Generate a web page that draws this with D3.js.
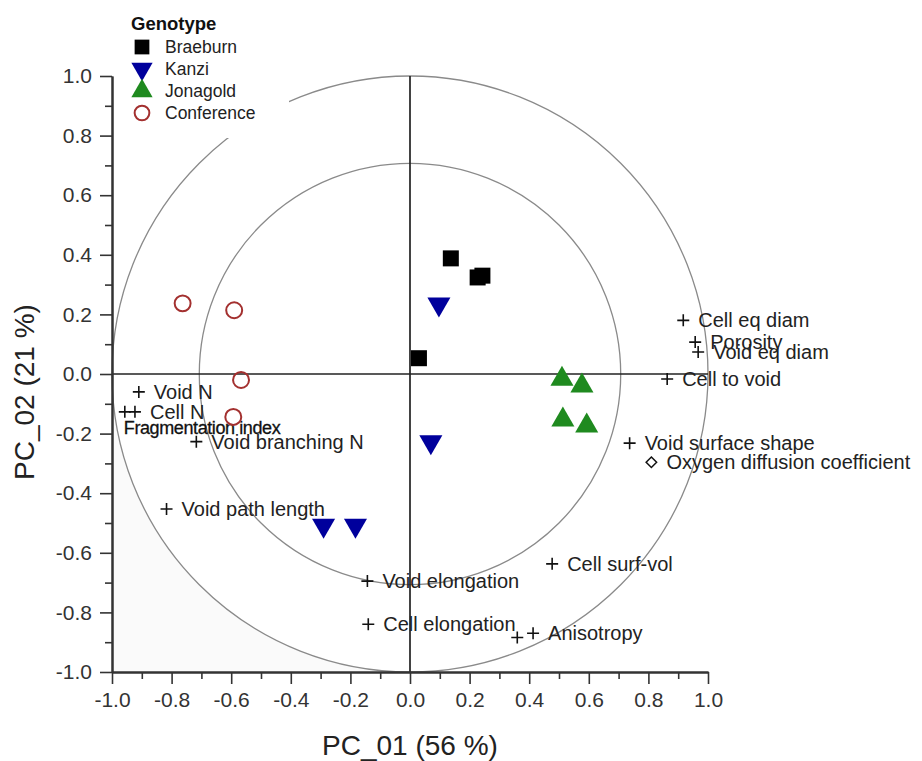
<!DOCTYPE html>
<html>
<head>
<meta charset="utf-8">
<script src="https://cdn.jsdelivr.net/npm/d3@7"></script>
<style>
  body { margin: 0; background: #fff; }
  text { font-family: "Liberation Sans", Arial, sans-serif; }
</style>
</head>
<body>
<svg width="922" height="761"></svg>
<script>
// genotype scores
var genotypes = ["Braeburn", "Kanzi", "Jonagold", "Conference"];
var braeburnPts = [[0.137, 0.388], [0.227, 0.324], [0.243, 0.330], [0.030, 0.053]];
var kanziPts = [[0.097, 0.234], [0.070, -0.228], [-0.290, -0.508], [-0.183, -0.508]];
var jonagoldPts = [[0.510, -0.017], [0.577, -0.040], [0.513, -0.154], [0.593, -0.174]];
var conferencePts = [[-0.763, 0.237], [-0.590, 0.214], [-0.567, -0.020], [-0.593, -0.144]];

// variable loadings
var varNames = ["Cell eq diam", "Porosity", "Void eq diam", "Cell to void", "Void surface shape",
  "Oxygen diffusion coefficient", "Cell surf-vol", "Anisotropy", "", "Cell elongation",
  "Void elongation", "Void path length", "Void branching N", "Void N", "Cell N", "Fragmentation index"];
var varX = [0.917, 0.957, 0.967, 0.863, 0.737, 0.810, 0.477, 0.413, 0.360, -0.140,
  -0.143, -0.817, -0.717, -0.910, -0.923, -0.957];
var varY = [0.180, 0.107, 0.074, -0.017, -0.232, -0.296, -0.637, -0.870, -0.884, -0.840,
  -0.695, -0.453, -0.227, -0.060, -0.127, -0.127];

var tickValues = [-1.0, -0.8, -0.6, -0.4, -0.2, 0.0, 0.2, 0.4, 0.6, 0.8, 1.0];
var minorTicks = [-0.9, -0.7, -0.5, -0.3, -0.1, 0.1, 0.3, 0.5, 0.7, 0.9];
var xTitle = "PC_01 (56 %)", yTitle = "PC_02 (21 %)";

var svg = d3.select("svg");
var margin = {"top": 76, "left": 112};
var width = 596, height = 596;

var x = d3.scaleLinear().domain([-1, 1]).range([margin.left, margin.left + width]),
    y = d3.scaleLinear().domain([-1, 1]).range([margin.top + height, margin.top]);

var R = x(1) - x(0);

// faint shading outside the circle, lower left
svg.append("path")
    .attr("d", "M" + x(-1) + "," + y(0) + "L" + x(-1) + "," + y(-1) + "L" + x(0) + "," + y(-1) +
      "A" + R + "," + R + " 0 0 1 " + x(-1) + "," + y(0) + "Z")
    .attr("fill", "#fafafa");

// correlation circles
[1, Math.sqrt(0.5)].forEach(function(r) {
  svg.append("circle")
      .attr("cx", x(0)).attr("cy", y(0))
      .attr("r", r * R)
      .attr("fill", "none")
      .attr("stroke", "#8a8a8a")
      .attr("stroke-width", 1.3);
});

// zero lines
svg.append("line").attr("x1", x(-1)).attr("x2", x(1)).attr("y1", y(0)).attr("y2", y(0))
    .attr("stroke", "#222").attr("stroke-width", 1.7);
svg.append("line").attr("x1", x(0)).attr("x2", x(0)).attr("y1", y(-1)).attr("y2", y(1))
    .attr("stroke", "#222").attr("stroke-width", 1.7);

var fmt = function(d) { return (Math.abs(d) < 1e-9 ? 0 : d).toFixed(1); };

// X axis
svg.append("g")
    .attr("transform", "translate(0," + y(-1) + ")")
    .call(d3.axisBottom(x).tickValues(tickValues).tickFormat(fmt).tickSize(12).tickSizeOuter(0).tickPadding(8));
svg.append("g")
    .attr("transform", "translate(0," + y(-1) + ")")
    .call(d3.axisBottom(x).tickValues(minorTicks).tickFormat("").tickSize(7).tickSizeOuter(0));

// Y axis
svg.append("g")
    .attr("transform", "translate(" + x(-1) + ",0)")
    .call(d3.axisLeft(y).tickValues(tickValues).tickFormat(fmt).tickSize(12).tickSizeOuter(0).tickPadding(8));
svg.append("g")
    .attr("transform", "translate(" + x(-1) + ",0)")
    .call(d3.axisLeft(y).tickValues(minorTicks).tickFormat("").tickSize(7).tickSizeOuter(0));

svg.selectAll(".domain").attr("stroke", "#333").attr("stroke-width", 2);
svg.selectAll(".tick line").attr("stroke", "#333").attr("stroke-width", 1.6);
svg.selectAll(".tick text")
    .attr("font-family", "Liberation Sans, Arial, sans-serif")
    .attr("font-size", "21px")
    .attr("fill", "#333");

// axis titles
svg.append("text")
    .attr("x", x(0)).attr("y", 755)
    .attr("text-anchor", "middle")
    .attr("font-size", "28px").attr("fill", "#222")
    .text(xTitle);
svg.append("text")
    .attr("transform", "translate(34,392) rotate(-90)")
    .attr("text-anchor", "middle")
    .attr("font-size", "28px").attr("fill", "#222")
    .text(yTitle);

// variable loadings: plus markers and labels
var vars = varNames.map(function(n, i) { return {name: n, x: varX[i], y: varY[i]}; });
var vg = svg.append("g");
vars.forEach(function(d) {
  var px = x(d.x), py = y(d.y);
  if (d.name == "Oxygen diffusion coefficient") {
    vg.append("path")
        .attr("d", d3.symbol().type(d3.symbolDiamond2).size(70)())
        .attr("transform", "translate(" + px + "," + py + ")")
        .attr("fill", "#fff").attr("stroke", "#111").attr("stroke-width", 1.5);
  } else {
    vg.append("path")
        .attr("d", "M" + (px - 6) + "," + py + "H" + (px + 6) + "M" + px + "," + (py - 6) + "V" + (py + 6))
        .attr("stroke", "#111").attr("stroke-width", 1.6);
  }
  if (d.name == "Fragmentation index") {
    vg.append("text")
        .attr("x", px - 1).attr("y", py + 16)
        .attr("dy", "0.35em")
        .attr("font-size", "18px")
        .attr("letter-spacing", "-0.4px")
        .attr("fill", "#111").attr("stroke", "#111").attr("stroke-width", 0.3)
        .text(d.name);
  } else if (d.name) {
    vg.append("text")
        .attr("x", px + 15).attr("y", py)
        .attr("dy", "0.35em")
        .attr("font-size", "20px")
        .attr("fill", "#222")
        .text(d.name);
  }
});

// genotype markers
var styles = {
  "Braeburn": {pts: braeburnPts, type: d3.symbolSquare, size: 256, rot: 0, fill: "#000", stroke: "none"},
  "Kanzi": {pts: kanziPts, type: d3.symbolTriangle, size: 230, rot: 180, fill: "#00009c", stroke: "none"},
  "Jonagold": {pts: jonagoldPts, type: d3.symbolTriangle, size: 230, rot: 0, fill: "#1f8a1f", stroke: "none"},
  "Conference": {pts: conferencePts, type: d3.symbolCircle, size: 200, rot: 0, fill: "none", stroke: "#a3302f"}
};

function drawSymbol(g, s, px, py, scale) {
  g.append("path")
      .attr("d", d3.symbol().type(s.type).size(s.size * scale)())
      .attr("transform", "translate(" + px + "," + py + ") rotate(" + s.rot + ")")
      .attr("fill", s.fill)
      .attr("stroke", s.stroke)
      .attr("stroke-width", s.stroke == "none" ? 0 : 2);
}

var mg = svg.append("g");
genotypes.forEach(function(gname) {
  var s = styles[gname];
  s.pts.forEach(function(p) { drawSymbol(mg, s, x(p[0]), y(p[1]), 1); });
});

// Legend
var legend = svg.append("g");
legend.append("rect")
    .attr("x", 122).attr("y", 4).attr("width", 167).attr("height", 134)
    .attr("fill", "#fff");
legend.append("text")
    .attr("x", 131).attr("y", 30)
    .attr("font-size", "18.5px").attr("font-weight", "bold").attr("fill", "#111")
    .text("Genotype");
genotypes.forEach(function(gname, i) {
  var cy = 47 + i * 22;
  drawSymbol(legend, styles[gname], 142, cy, 0.85);
  legend.append("text")
      .attr("x", 165).attr("y", cy)
      .attr("dy", "0.35em")
      .attr("font-size", "17.5px").attr("fill", "#222")
      .text(gname);
});
</script>
</body>
</html>
